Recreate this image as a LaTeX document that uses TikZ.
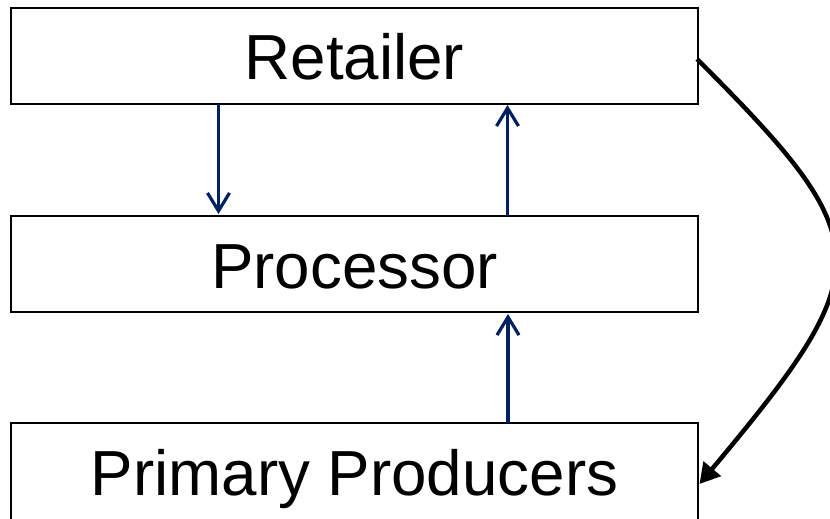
\documentclass[tikz,border=0pt]{standalone}
\usepackage{fontspec}
\setmainfont{Liberation Sans}
\usetikzlibrary{arrows.meta}
\definecolor{navy}{RGB}{0,32,96}
\tikzset{
  tier/.style={draw=black, line width=2pt, fill=white, minimum width=687pt,
    inner sep=0pt, outer sep=0pt, text height=60pt, text depth=12pt,
    font=\fontsize{63.7}{70}\selectfont},
  flow/.style={draw=navy, line width=3.2pt,
    -{Straight Barb[length=18pt,width=22pt,line width=3.2pt]}},
  feedback/.style={draw=black, line width=4.5pt,
    -{Triangle[length=20pt,width=22pt]}}
}
\begin{document}
\begin{tikzpicture}[x=1pt,y=-1pt]
  \useasboundingbox (0,0) rectangle (830,519);
  \clip (0,0) rectangle (830,519);
  % supply chain tiers
  \node[tier, minimum height=96pt] (ret) at (354.5,56) {Retailer};
  \node[tier, minimum height=96pt] (proc) at (354.5,264) {Processor};
  \node[tier, minimum height=97pt] (prim) at (354.5,471.5) {Primary Producers};
  % flows between tiers
  \draw[flow] ([xshift=-136pt]ret.south) -- ([xshift=-136pt,yshift=2pt]proc.north);
  \draw[flow] ([xshift=153pt]proc.north) -- ([xshift=153pt,yshift=-1pt]ret.south);
  \draw[flow] ([xshift=153.5pt]prim.north) -- ([xshift=153.5pt,yshift=-2pt]proc.south);
  % retailer back to primary producers
  \draw[feedback] ([xshift=-1pt,yshift=-3pt]ret.east)
    .. controls (880,242) and (880,268) .. ([xshift=1.5pt,yshift=-12.5pt]prim.east);
\end{tikzpicture}
\end{document}
